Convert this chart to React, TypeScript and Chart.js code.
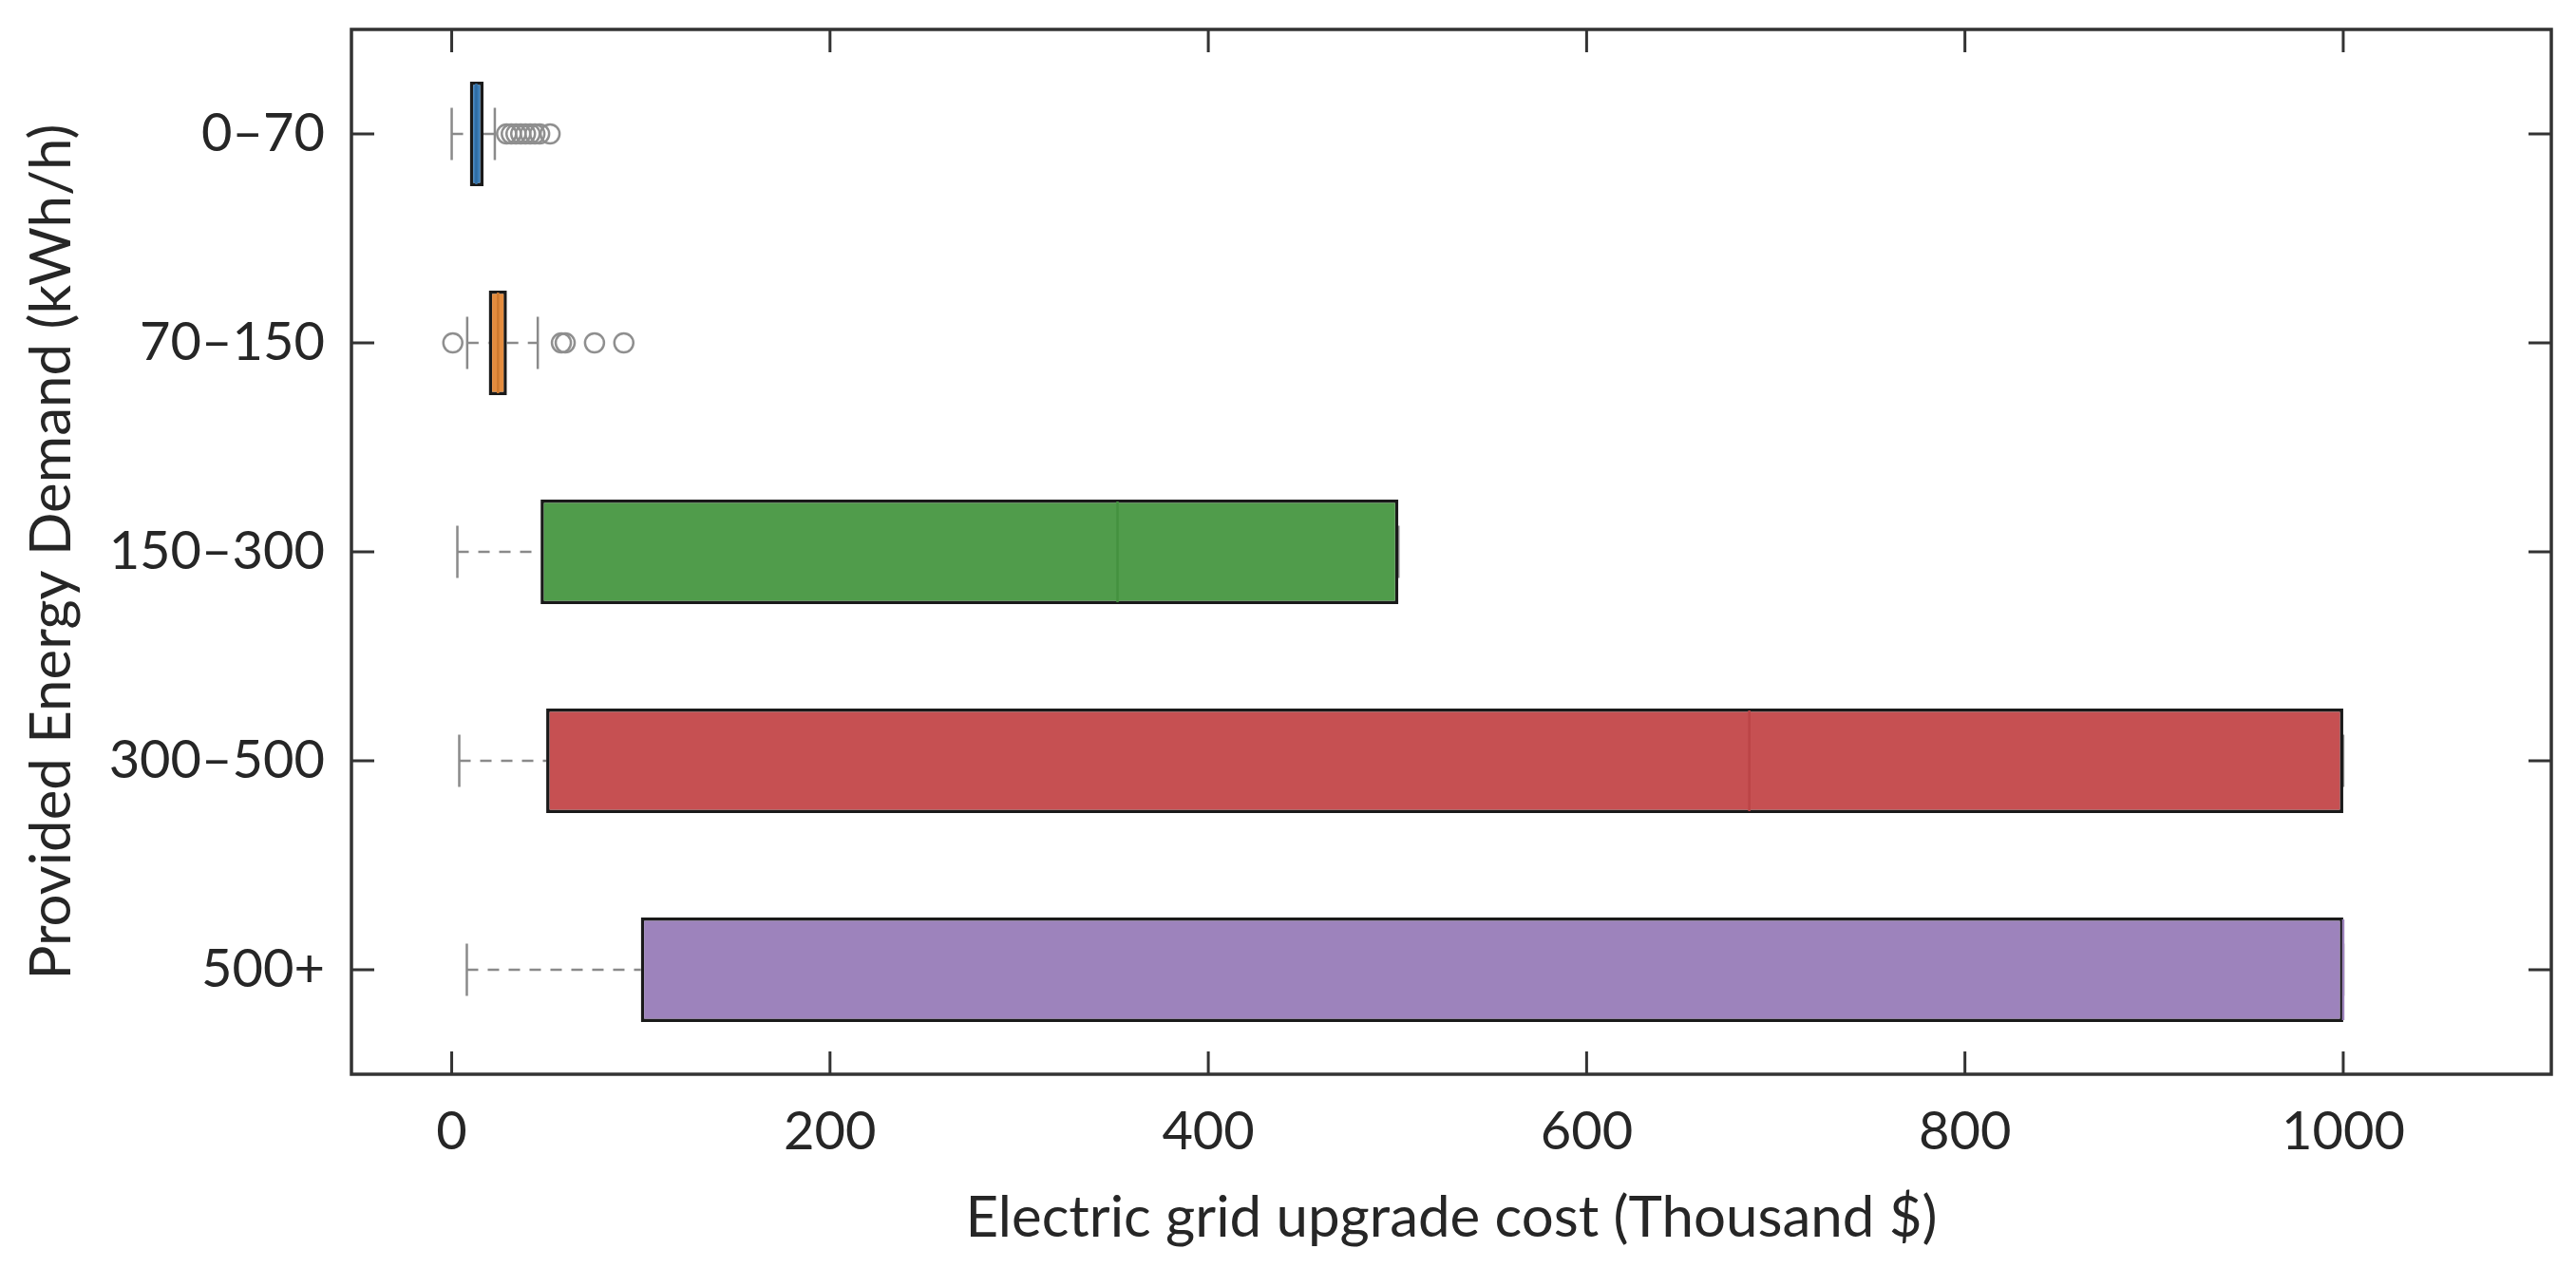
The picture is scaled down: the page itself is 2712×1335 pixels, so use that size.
import { useEffect, useRef } from "react";
import { Chart, registerables } from "chart.js";

Chart.register(...registerables);

const categories = ["0–70", "70–150", "150–300", "300–500", "500+"];
const whiskerLow = [0, 8.2, 3, 4, 8];
const q1 = [9.6, 19.6, 47, 50, 100];
const median = [13, 24.5, 352, 686, 1000];
const q3 = [16.8, 29.2, 500.5, 1000, 1000];
const whiskerHigh = [22.8, 45.5, 500.5, 1000, 1000];
const outliers0 = [29, 31.5, 34, 36.5, 39, 41.5, 44, 46.5, 52];
const outliers1 = [0.6, 58, 60, 75.5, 91];
const xTicks = [0, 200, 400, 600, 800, 1000];

const fills = ["#3b7eb9", "#e48c3e", "#509c4b", "#c65052", "#9d83bc"];
const medianColors = ["#2f6da3", "#cf7a2f", "#44913f", "#bb4547", "#9d83bc"];

const FONT = "Lato, 'Open Sans', sans-serif";
const INK = "#262626";

const boxPlugin = {
  id: "boxParts",
  beforeDatasetsDraw(chart: any) {
    const { ctx } = chart;
    const x = chart.scales.x;
    const y = chart.scales.y;
    const cap = (y.getPixelForValue(1) - y.getPixelForValue(0)) * 0.125;
    ctx.save();
    ctx.strokeStyle = "#8a8a8a";
    ctx.lineWidth = 2.5;
    categories.forEach((_, i) => {
      const py = y.getPixelForValue(i);
      ctx.setLineDash([12, 10]);
      ctx.beginPath();
      ctx.moveTo(x.getPixelForValue(whiskerLow[i]), py);
      ctx.lineTo(x.getPixelForValue(q1[i]), py);
      if (whiskerHigh[i] > q3[i]) {
        ctx.moveTo(x.getPixelForValue(q3[i]), py);
        ctx.lineTo(x.getPixelForValue(whiskerHigh[i]), py);
      }
      ctx.stroke();
      ctx.setLineDash([]);
      ctx.beginPath();
      [whiskerLow[i], whiskerHigh[i]].forEach((v) => {
        const px = x.getPixelForValue(v);
        ctx.moveTo(px, py - cap);
        ctx.lineTo(px, py + cap);
      });
      ctx.stroke();
    });
    ctx.restore();
  },
  afterDatasetsDraw(chart: any) {
    const { ctx, chartArea: a } = chart;
    const x = chart.scales.x;
    const y = chart.scales.y;
    const half = (y.getPixelForValue(1) - y.getPixelForValue(0)) * 0.25 - 2;
    ctx.save();
    ctx.lineWidth = 2.5;
    categories.forEach((_, i) => {
      const px = x.getPixelForValue(median[i]);
      const py = y.getPixelForValue(i);
      ctx.strokeStyle = medianColors[i];
      ctx.beginPath();
      ctx.moveTo(px, py - half);
      ctx.lineTo(px, py + half);
      ctx.stroke();
    });

    // frame and inward ticks on every side
    ctx.strokeStyle = "#333";
    ctx.lineWidth = 3;
    const len = 24;
    ctx.beginPath();
    x.ticks.forEach((t: any) => {
      const px = x.getPixelForValue(t.value);
      ctx.moveTo(px, a.bottom);
      ctx.lineTo(px, a.bottom - len);
      ctx.moveTo(px, a.top);
      ctx.lineTo(px, a.top + len);
    });
    categories.forEach((_, i) => {
      const py = y.getPixelForValue(i);
      ctx.moveTo(a.left, py);
      ctx.lineTo(a.left + len, py);
      ctx.moveTo(a.right, py);
      ctx.lineTo(a.right - len, py);
    });
    ctx.stroke();
    ctx.lineWidth = 3.5;
    ctx.strokeRect(a.left, a.top, a.right - a.left, a.bottom - a.top);
    ctx.restore();
  },
};

export default function App() {
  const canvasRef = useRef<HTMLCanvasElement>(null);
  const chartRef = useRef<Chart | null>(null);

  useEffect(() => {
    document.body.style.margin = "0";
    const canvas = canvasRef.current;
    if (!canvas) return;
    if (chartRef.current) chartRef.current.destroy();

    const outlierPoints = [
      ...outliers0.map((v) => ({ x: v, y: categories[0] })),
      ...outliers1.map((v) => ({ x: v, y: categories[1] })),
    ];

    chartRef.current = new Chart(canvas.getContext("2d")!, {
      type: "bar",
      data: {
        labels: categories,
        datasets: [
          {
            type: "bar",
            indexAxis: "y",
            data: categories.map((_, i) => [q1[i], q3[i]]),
            backgroundColor: fills,
            borderColor: "#1a1a1a",
            borderWidth: 3.5,
            borderSkipped: false,
            barPercentage: 0.5,
            categoryPercentage: 1,
          } as any,
          {
            type: "scatter",
            data: outlierPoints as any,
            pointRadius: 10,
            pointBorderWidth: 2.5,
            pointBorderColor: "#8f8f8f",
            pointBackgroundColor: "rgba(0,0,0,0)",
            showLine: false,
          } as any,
        ],
      },
      options: {
        responsive: false,
        devicePixelRatio: 1,
        animation: false,
        layout: { padding: { top: 31, right: 26, left: 0, bottom: 0 } },
        plugins: { legend: { display: false }, tooltip: { enabled: false } },
        scales: {
          x: {
            type: "linear",
            min: -53,
            max: 1110,
            offset: false,
            afterBuildTicks: (scale: any) => {
              scale.ticks = xTicks.map((v) => ({ value: v }));
            },
            afterFit: (scale: any) => {
              scale.height = 204;
              scale.paddingLeft = 0;
              scale.paddingRight = 0;
            },
            grid: { display: false, drawTicks: false, offset: false },
            border: { display: false },
            ticks: {
              color: INK,
              padding: 27,
              font: { family: FONT, size: 56 },
              maxRotation: 0,
              callback: (v: any) => String(v),
            },
            title: {
              display: true,
              text: "Electric grid upgrade cost (Thousand $)",
              color: INK,
              font: { family: FONT, size: 60 },
              padding: { top: 0, bottom: 16 },
            },
          },
          y: {
            type: "category",
            labels: categories,
            offset: true,
            afterFit: (scale: any) => {
              scale.width = 370;
              scale.paddingTop = 0;
              scale.paddingBottom = 0;
            },
            grid: { display: false, drawTicks: false },
            border: { display: false },
            ticks: {
              color: INK,
              padding: 28,
              font: { family: FONT, size: 56 },
            },
            title: {
              display: true,
              text: "Provided Energy Demand (kWh/h)",
              color: INK,
              font: { family: FONT, size: 60 },
              padding: { top: 19, bottom: 0 },
            },
          },
        },
      } as any,
      plugins: [boxPlugin],
    });

    return () => {
      chartRef.current?.destroy();
      chartRef.current = null;
    };
  }, []);

  return (
    <div style={{ width: 2712, height: 1335, background: "#fff" }}>
      <canvas ref={canvasRef} width={2712} height={1335} />
    </div>
  );
}
